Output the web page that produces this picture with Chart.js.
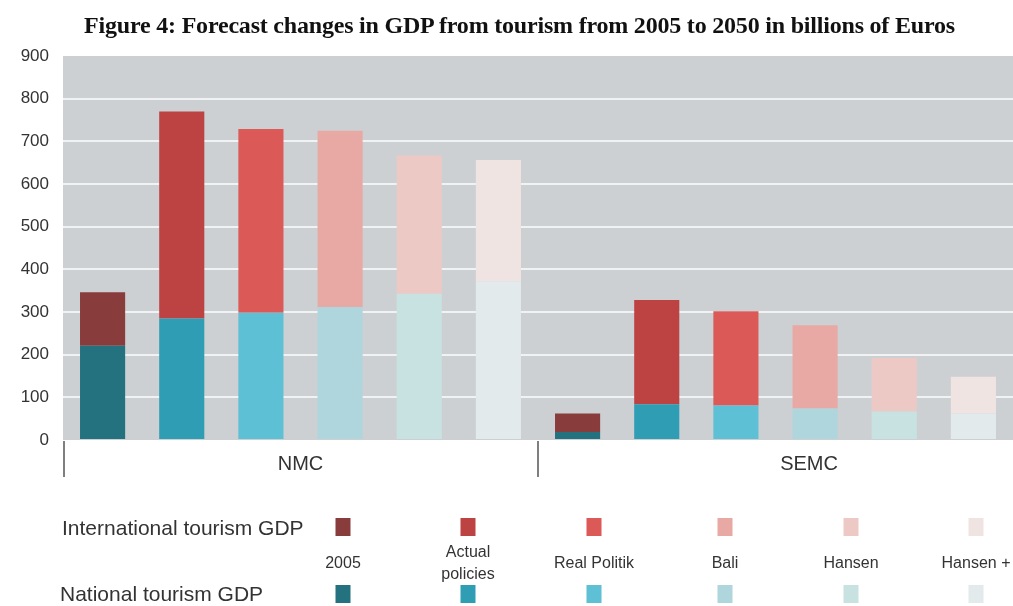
<!DOCTYPE html>
<html>
<head>
<meta charset="utf-8">
<script src="https://cdn.jsdelivr.net/npm/chart.js@4.4.1/dist/chart.umd.min.js"></script>
<style>
  body { margin: 0; background: #fff; }
  #wrap { position: relative; width: 1013px; height: 606px; overflow: hidden; font-family: "Liberation Sans", Arial, sans-serif; color: #333; }
  #title { position: absolute; top: 12px; left: 0; width: 1039px; text-align: center; font-family: "Liberation Serif", "Times New Roman", serif; font-weight: bold; font-size: 24px; letter-spacing: -0.2px; color: #111; white-space: nowrap; }
  canvas { position: absolute; left: 0; top: 0; }
  .rowlabel { position: absolute; font-size: 21px; white-space: nowrap; transform: translateY(-50%); }
  .swatch { position: absolute; width: 15px; height: 18px; transform: translate(-50%, -50%); }
  .scen { position: absolute; font-size: 16px; text-align: center; line-height: 22px; white-space: nowrap; transform: translate(-50%, -50%); }
</style>
</head>
<body>
<div id="wrap">
  <canvas id="gdpChart" width="1013" height="606"></canvas>
  <div id="title">Figure 4: Forecast changes in GDP from tourism from 2005 to 2050 in billions of Euros</div>
  <div id="legend"></div>
</div>
<script>
// Data (billions of Euros)
const regions = ['NMC', 'SEMC'];
const scenarios = ['2005', 'Actual policies', 'Real Politik', 'Bali', 'Hansen', 'Hansen +'];
const nationalNMC = [221, 285, 298, 312, 343, 372];
const internationalNMC = [125, 485, 431, 413, 324, 284];
const nationalSEMC = [19, 84, 81, 74, 67, 62];
const internationalSEMC = [43, 244, 221, 195, 125, 86];
const yTicks = [0, 100, 200, 300, 400, 500, 600, 700, 800, 900];

// Colours per scenario
const internationalColors = ['#883c3c', '#bd4342', '#db5a58', '#e8a9a4', '#ecc9c5', '#efe4e2'];
const nationalColors = ['#247280', '#2f9db3', '#5ec0d4', '#aed6dc', '#c8e2e2', '#e3eaec'];

const labels = [];
regions.forEach(function(r) {
    scenarios.forEach(function(s) { labels.push(r + ' - ' + s); });
});

const plotBackground = {
    id: 'plotBackground',
    beforeDraw: function(chart) {
        const a = chart.chartArea;
        const ctx = chart.ctx;
        ctx.save();
        ctx.fillStyle = '#cdd0d3';
        ctx.fillRect(a.left, a.top, a.right - a.left, a.bottom - a.top);
        ctx.restore();
    }
};

const groupAxis = {
    id: 'groupAxis',
    afterDraw: function(chart) {
        const a = chart.chartArea;
        const x = chart.scales.x;
        const ctx = chart.ctx;
        const n = scenarios.length;
        const mid = (x.getPixelForValue(n - 1) + x.getPixelForValue(n)) / 2;
        ctx.save();
        ctx.strokeStyle = '#555';
        ctx.lineWidth = 1.5;
        [a.left + 1, mid].forEach(function(px) {
            ctx.beginPath();
            ctx.moveTo(px, a.bottom + 1);
            ctx.lineTo(px, a.bottom + 37);
            ctx.stroke();
        });
        ctx.fillStyle = '#333';
        ctx.font = '20px "Liberation Sans", Arial, sans-serif';
        ctx.textAlign = 'center';
        ctx.textBaseline = 'middle';
        ctx.fillText(regions[0], (a.left + mid) / 2, a.bottom + 24);
        ctx.fillText(regions[1], x.getPixelForValue(n + 3) - 6, a.bottom + 24);
        ctx.restore();
    }
};

new Chart(document.getElementById('gdpChart').getContext('2d'), {
    type: 'bar',
    data: {
        labels: labels,
        datasets: [
            {
                label: 'National tourism GDP',
                data: nationalNMC.concat(nationalSEMC),
                backgroundColor: nationalColors.concat(nationalColors),
                barPercentage: 0.57,
                categoryPercentage: 1
            },
            {
                label: 'International tourism GDP',
                data: internationalNMC.concat(internationalSEMC),
                backgroundColor: internationalColors.concat(internationalColors),
                barPercentage: 0.57,
                categoryPercentage: 1
            }
        ]
    },
    options: {
        responsive: false,
        animation: false,
        layout: { padding: { top: 56, right: 0, bottom: 166, left: 0 } },
        plugins: {
            legend: { display: false },
            tooltip: { enabled: false }
        },
        scales: {
            x: {
                stacked: true,
                ticks: { display: false },
                grid: { display: false },
                border: { display: false },
                afterFit: function(scale) { scale.height = 0; }
            },
            y: {
                stacked: true,
                min: 0,
                max: 900,
                afterBuildTicks: function(scale) {
                    scale.ticks = yTicks.map(function(v) { return { value: v }; });
                },
                afterFit: function(scale) { scale.width = 63; },
                ticks: {
                    padding: 14,
                    color: '#333',
                    font: { family: '"Liberation Sans", Arial, sans-serif', size: 17 }
                },
                grid: {
                    color: function(c) {
                        return (c.tick && (c.tick.value === 0 || c.tick.value === 900)) ? 'rgba(0,0,0,0)' : '#f0f2f3';
                    },
                    lineWidth: 2,
                    drawTicks: false
                },
                border: { display: false }
            }
        }
    },
    plugins: [plotBackground, groupAxis]
});

// Legend below the chart
const legend = document.getElementById('legend');
const legendX = [343, 468, 594, 725, 851, 976];
function add(cls, left, top, text, color) {
    const d = document.createElement('div');
    d.className = cls;
    d.style.left = left + 'px';
    d.style.top = top + 'px';
    if (text) d.innerHTML = text;
    if (color) d.style.background = color;
    legend.appendChild(d);
}
add('rowlabel', 62, 528, 'International tourism GDP');
add('rowlabel', 60, 594, 'National tourism GDP');
scenarios.forEach(function(s, i) {
    add('swatch', legendX[i], 527, '', internationalColors[i]);
    add('swatch', legendX[i], 594, '', nationalColors[i]);
    const txt = s === 'Actual policies' ? 'Actual<br>policies' : s;
    add('scen', legendX[i], 563, txt);
});
</script>
</body>
</html>
